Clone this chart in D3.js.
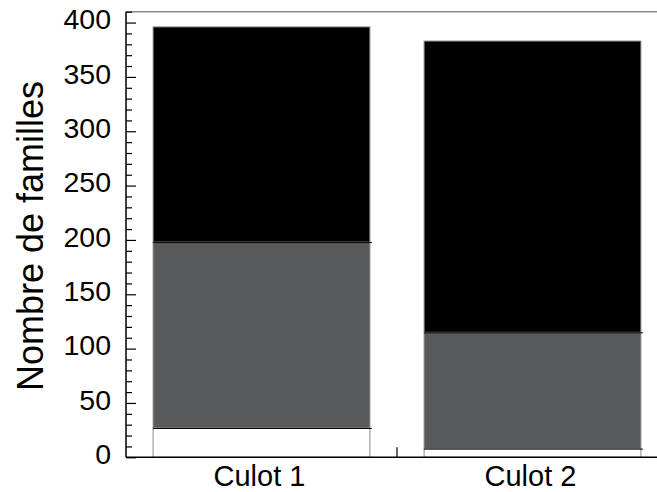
<!DOCTYPE html>
<html>
<head>
<meta charset="utf-8">
<script src="https://cdn.jsdelivr.net/npm/d3@7"></script>
<style>
  html, body { margin: 0; padding: 0; background: #fff; }
  svg { display: block; }
  text { font-family: "Liberation Sans", Arial, sans-serif; fill: #000; }
</style>
</head>
<body>
<svg id="chart" width="657" height="492"></svg>
<script>
// Data
const categories = ["Culot 1", "Culot 2"];
const seriesNames = ["bas", "milieu", "haut"];
const seriesBas = [27, 8];
const seriesMilieu = [171, 107];
const seriesHaut = [198, 268];
const seriesColors = ["#ffffff", "#58595b", "#000000"];
const yTickValues = [0, 50, 100, 150, 200, 250, 300, 350, 400];
const yTitle = "Nombre de familles";

const W = 657, H = 492;
const svg = d3.select("#chart");

const x = d3.scaleBand().domain(categories).range([126, 668]).paddingInner(0.2).paddingOuter(0.1);
const y = d3.scaleLinear().domain([0, 410]).range([457.3, 11.7]);

const table = categories.map((c, i) => ({cat: c, bas: seriesBas[i], milieu: seriesMilieu[i], haut: seriesHaut[i]}));
const stack = d3.stack().keys(seriesNames)(table);

// bars
stack.forEach((layer, li) => {
  svg.append("g").selectAll("rect").data(layer).join("rect")
    .attr("x", d => x(d.data.cat))
    .attr("y", d => y(d[1]))
    .attr("width", x.bandwidth())
    .attr("height", d => y(d[0]) - y(d[1]))
    .attr("fill", seriesColors[li])
    .attr("stroke", "#8a8a8a")
    .attr("stroke-width", 1);
});
// segment boundary lines
stack.slice(0, 2).forEach(layer => {
  svg.append("g").selectAll("line").data(layer).join("line")
    .attr("x1", d => x(d.data.cat))
    .attr("x2", d => x(d.data.cat) + x.bandwidth() + 2)
    .attr("y1", d => y(d[1]) + 0.5)
    .attr("y2", d => y(d[1]) + 0.5)
    .attr("stroke", "#000").attr("stroke-width", 1);
});

// top frame
svg.append("line").attr("x1", 126).attr("x2", W).attr("y1", y(410)).attr("y2", y(410))
  .attr("stroke", "#888").attr("stroke-width", 1.5);

// y axis
const yAxis = d3.axisRight(y).tickValues(yTickValues).tickSize(10).tickFormat("");
const gy = svg.append("g").attr("transform", "translate(126,0)").call(yAxis);
gy.select(".domain").remove();
gy.selectAll(".tick line").attr("stroke", "#000").attr("stroke-width", 1.2);
const minor = d3.range(0, 411, 10).filter(v => v % 50 !== 0);
const yMinor = d3.axisRight(y).tickValues(minor).tickSize(6).tickFormat("");
const gm = svg.append("g").attr("transform", "translate(126,0)").call(yMinor);
gm.select(".domain").remove();
gm.selectAll(".tick line").attr("stroke", "#000").attr("stroke-width", 1.2);
svg.append("line").attr("x1", 126).attr("x2", 126).attr("y1", y(410)).attr("y2", y(0))
  .attr("stroke", "#000").attr("stroke-width", 1.5);

// y labels
svg.append("g").selectAll("text").data(yTickValues).join("text")
  .attr("x", 111).attr("y", d => y(d)).attr("dy", "0.24em")
  .attr("text-anchor", "end").attr("font-size", 28.5).text(d => d);

// x axis
svg.append("line").attr("x1", 126).attr("x2", W).attr("y1", y(0)).attr("y2", y(0))
  .attr("stroke", "#000").attr("stroke-width", 1.5);
const step = x.step();
const boundaries = categories.slice(1).map(c => x(c) - step * x.paddingInner() / 2);
svg.append("g").selectAll("line").data(boundaries).join("line")
  .attr("x1", d => d).attr("x2", d => d).attr("y1", y(0)).attr("y2", y(0) - 10)
  .attr("stroke", "#000").attr("stroke-width", 1.2);
svg.append("g").selectAll("text").data(categories).join("text")
  .attr("x", d => x(d) + x.bandwidth() / 2 - 2).attr("y", 486)
  .attr("text-anchor", "middle").attr("font-size", 29).text(d => d);

// y title
svg.append("text").attr("transform", "translate(43,236) rotate(-90)")
  .attr("text-anchor", "middle").attr("font-size", 36).text(yTitle);
</script>
</body>
</html>
